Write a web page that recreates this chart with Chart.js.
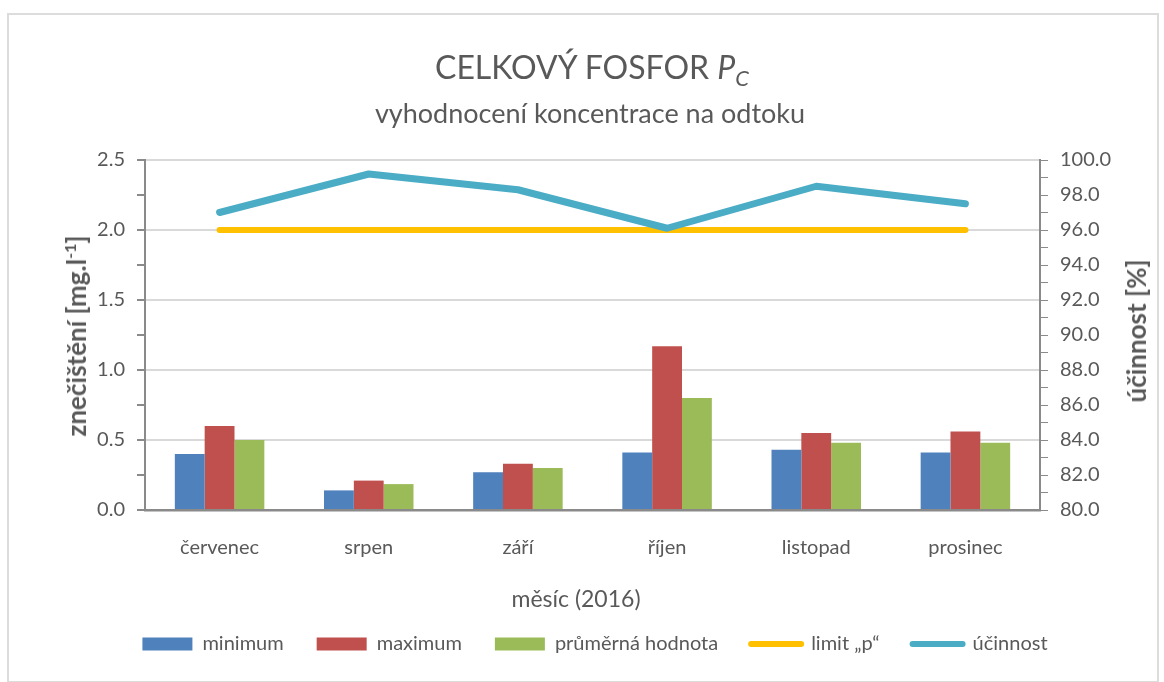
<!DOCTYPE html>
<html>
<head>
<meta charset="utf-8">
<script src="https://cdn.jsdelivr.net/npm/chart.js@4/dist/chart.umd.min.js"></script>
<style>
  body { margin: 0; background: #fff; }
  #wrap { position: relative; width: 1164px; height: 682px; font-family: Lato, sans-serif; color: #595959; }
  #frame { position: absolute; left: 7px; top: 13px; width: 1148px; height: 666px; border: 2px solid #dcdcdc; }
  canvas { position: absolute; left: 0; top: 0; }
  .txt { position: absolute; white-space: nowrap; }
  #title { left: 0; width: 1184px; top: 47px; text-align: center; font-size: 32px; }
  #subtitle { left: 0; width: 1180px; top: 96px; text-align: center; font-size: 27px; }
  #xtitle { left: 0; width: 1152px; top: 584px; text-align: center; font-size: 23px; }
  #ytitle { left: 76px; top: 336px; font-size: 26px; font-weight: bold; transform: translate(-50%, -50%) rotate(-90deg); }
  #y1title { left: 1136px; top: 331px; font-size: 26px; font-weight: bold; transform: translate(-50%, -50%) rotate(-90deg); }
</style>
</head>
<body>
<div id="wrap">
  <div id="frame"></div>
  <canvas id="myChart" width="1164" height="682"></canvas>
  <div class="txt" id="title">CELKOVÝ FOSFOR <i>P</i><sub style="font-size:22px;font-style:italic">C</sub></div>
  <div class="txt" id="subtitle">vyhodnocení koncentrace na odtoku</div>
  <div class="txt" id="xtitle">měsíc (2016)</div>
  <div class="txt" id="ytitle">znečištění [mg.l<sup style="font-size:16px">-1</sup>]</div>
  <div class="txt" id="y1title">účinnost [%]</div>
</div>
<script>
// data
const months = ['červenec', 'srpen', 'září', 'říjen', 'listopad', 'prosinec'];
const minimum = [0.40, 0.14, 0.27, 0.41, 0.43, 0.41];
const maximum = [0.60, 0.21, 0.33, 1.17, 0.55, 0.56];
const prumer = [0.50, 0.185, 0.30, 0.80, 0.48, 0.48];
const limitP = [96.0, 96.0, 96.0, 96.0, 96.0, 96.0];
const ucinnost = [97.0, 99.2, 98.3, 96.1, 98.5, 97.5];

const grey = '#595959';
const axisGrey = '#8a8a8a';

var ctx = document.getElementById('myChart').getContext('2d');
var myChart = new Chart(ctx, {
    type: 'bar',
    data: {
        labels: months,
        datasets: [
            {
                label: 'minimum',
                backgroundColor: '#4f81bd',
                data: minimum,
                yAxisID: 'y',
                order: 3
            },
            {
                label: 'maximum',
                backgroundColor: '#c0504d',
                data: maximum,
                yAxisID: 'y',
                order: 3
            },
            {
                label: 'průměrná hodnota',
                backgroundColor: '#9bbb59',
                data: prumer,
                yAxisID: 'y',
                order: 3
            },
            {
                type: 'line',
                label: 'limit \u201Ep\u201C',
                borderColor: '#ffc000',
                backgroundColor: '#ffc000',
                borderWidth: 6,
                borderCapStyle: 'round',
                pointRadius: 0,
                data: limitP,
                yAxisID: 'y1',
                order: 2
            },
            {
                type: 'line',
                label: 'účinnost',
                borderColor: '#4bacc6',
                backgroundColor: '#4bacc6',
                borderWidth: 7,
                borderCapStyle: 'round',
                borderJoinStyle: 'round',
                pointRadius: 0,
                data: ucinnost,
                yAxisID: 'y1',
                order: 1
            }
        ]
    },
    options: {
        responsive: false,
        animation: false,
        layout: {
            // left padding only nudges the legend; the y axis width below compensates
            padding: { top: 160, bottom: 18, left: 26, right: 0 }
        },
        datasets: {
            bar: { categoryPercentage: 0.6, barPercentage: 1.0 }
        },
        plugins: {
            tooltip: { enabled: false },
            legend: {
                position: 'bottom',
                labels: {
                    color: grey,
                    font: { family: 'Lato', size: 20 },
                    usePointStyle: true,
                    pointStyleWidth: 50,
                    boxHeight: 13,
                    padding: 33,
                    sort: function (a, b) { return a.datasetIndex - b.datasetIndex; },
                    generateLabels: function (chart) {
                        var items = Chart.defaults.plugins.legend.labels.generateLabels(chart);
                        items.forEach(function (it) {
                            if (it.datasetIndex < 3) {
                                it.pointStyle = 'rect';
                                it.lineWidth = 0;
                            } else {
                                it.pointStyle = 'line';
                                it.lineWidth = 6;
                                it.lineCap = 'round';
                            }
                        });
                        return items;
                    }
                }
            }
        },
        scales: {
            x: {
                grid: { display: false, drawTicks: false },
                border: { color: axisGrey, width: 2.5 },
                ticks: { color: grey, font: { family: 'Lato', size: 20 }, padding: 26 },
                afterFit: function (s) { s.height = 91; }
            },
            y: {
                position: 'left',
                min: 0,
                max: 2.5,
                border: { color: axisGrey, width: 2 },
                grid: {
                    color: function (c) {
                        return c.tick && Math.abs(c.tick.value * 2 - Math.round(c.tick.value * 2)) < 1e-6 ? '#d9d9d9' : 'rgba(0,0,0,0)';
                    },
                    lineWidth: 2,
                    tickColor: axisGrey,
                    tickLength: 8
                },
                ticks: {
                    stepSize: 0.25,
                    autoSkip: false,
                    color: grey,
                    font: { family: 'Lato', size: 20 },
                    padding: 12,
                    callback: function (v) {
                        return Math.abs(v * 2 - Math.round(v * 2)) < 1e-6 ? Number(v).toFixed(1) : '';
                    }
                },
                afterFit: function (s) { s.width = 119; }
            },
            y1: {
                position: 'right',
                min: 80,
                max: 100,
                border: { color: axisGrey, width: 2 },
                grid: { drawOnChartArea: false, tickColor: axisGrey, tickLength: 8 },
                ticks: {
                    stepSize: 1,
                    autoSkip: false,
                    color: grey,
                    font: { family: 'Lato', size: 20 },
                    padding: 12,
                    callback: function (v) {
                        return v % 2 === 0 ? Number(v).toFixed(1) : '';
                    }
                },
                afterFit: function (s) { s.width = 124; }
            }
        }
    }
});
</script>
</body>
</html>
